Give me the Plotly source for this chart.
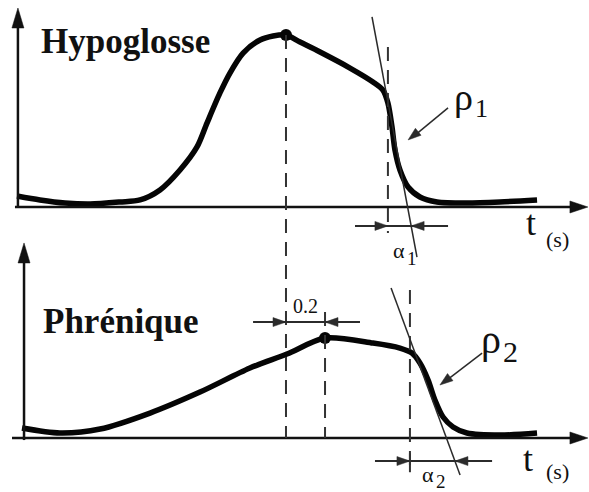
import plotly.graph_objects as go

# Burst envelopes: time in seconds, amplitude normalised to the hypoglossal peak
hypo_t = [0.000, 0.124, 0.259, 0.395, 0.557, 0.665, 0.773, 0.881, 0.973, 1.027,
          1.097, 1.151, 1.222, 1.314, 1.384, 1.454, 1.530, 1.638, 1.800, 1.924,
          1.978, 2.005, 2.027, 2.043, 2.070, 2.114, 2.178, 2.270, 2.432, 2.611,
          2.811]
hypo_a = [0.064, 0.041, 0.023, 0.017, 0.029, 0.041, 0.099, 0.215, 0.349, 0.488,
          0.663, 0.779, 0.895, 0.971, 0.994, 1.000, 0.959, 0.901, 0.808, 0.727,
          0.680, 0.605, 0.465, 0.331, 0.215, 0.116, 0.058, 0.029, 0.023, 0.029,
          0.041]

phren_t = [0.027, 0.232, 0.449, 0.719, 0.989, 1.259, 1.459, 1.665, 1.924, 2.070,
           2.135, 2.178, 2.222, 2.259, 2.303, 2.357, 2.432, 2.611, 2.811]
phren_a = [0.058, 0.029, 0.052, 0.145, 0.267, 0.407, 0.488, 0.581, 0.552, 0.523,
           0.494, 0.436, 0.337, 0.221, 0.122, 0.064, 0.029, 0.017, 0.029]

# Fall-phase tangents (t, amplitude) end points and the onset of the fall
hypo_tangent_t = [1.919, 2.162]
hypo_tangent_a = [1.105, -0.291]
phren_tangent_t = [2.022, 2.395]
phren_tangent_a = [0.872, -0.215]
hypo_knee_t = 2.005
phren_knee_t = 2.124

panel_titles = ["Hypoglosse", "Phrénique"]
delay_label = "0.2"
slope_symbol, fall_symbol = "ρ", "α"
panel_indices = ["1", "2"]

# ---------------------------------------------------------------- geometry
W, H = 589, 492
PX_PER_S = 185.0
PX_PER_UNIT = 172.0
T_LEFT = -17 / PX_PER_S
X_RANGE = [T_LEFT, T_LEFT + W / PX_PER_S]
TOP_BASE, BOT_BASE = 207, 438          # baseline rows of the two panels
Y1_RANGE = [(TOP_BASE - H) / PX_PER_UNIT, TOP_BASE / PX_PER_UNIT]
Y2_RANGE = [(BOT_BASE - H) / PX_PER_UNIT, BOT_BASE / PX_PER_UNIT]

INK = "#111111"
GREY = "#2b2b2b"
SERIF = "Liberation Serif, Times New Roman, serif"

shapes = []
annotations = []


def seg(x0, y0, x1, y1, yref, width=1.5, color=GREY, dash=None):
    shapes.append(dict(type="line", xref="x", yref=yref, x0=x0, y0=y0, x1=x1, y1=y1,
                       line=dict(color=color, width=width, dash=dash), layer="above"))


def head(xt, yt, yref, ux, uy, length, width, color=GREY):
    """Filled triangular arrowhead; (ux, uy) is the pointing direction on screen."""
    n = (ux * ux + uy * uy) ** 0.5
    ux, uy = ux / n, uy / n
    px, py = -uy, ux
    bx, by = -ux * length, -uy * length
    pts = [(0, 0), (bx + px * width / 2, by + py * width / 2),
           (bx - px * width / 2, by - py * width / 2)]
    path = "M " + " L ".join(f"{xt + dx / PX_PER_S:.5f},{yt - dy / PX_PER_UNIT:.5f}"
                             for dx, dy in pts) + " Z"
    shapes.append(dict(type="path", xref="x", yref=yref, path=path, fillcolor=color,
                       line=dict(color=color, width=0.5), layer="above"))


def text(x, y, yref, s, size, bold=False, anchor="center", color=INK):
    annotations.append(dict(x=x, y=y, xref="x", yref=yref, text=f"<b>{s}</b>" if bold else s,
                            showarrow=False, xanchor=anchor, yanchor="middle", borderpad=0,
                            font=dict(family=SERIF, size=size, color=color)))


def indexed(x, y_sym, y_idx, yref, sym, idx, size_sym, size_idx):
    """Symbol with a lowered index placed right after it."""
    text(x, y_sym, yref, sym, size_sym, anchor="right")
    text(x, y_idx, yref, idx, size_idx, anchor="left")


fig = go.Figure()

# envelopes
fig.add_trace(go.Scatter(x=hypo_t, y=hypo_a, mode="lines", yaxis="y",
                         line=dict(color="#050505", width=5.5, shape="spline", smoothing=0.8),
                         hoverinfo="skip"))
fig.add_trace(go.Scatter(x=phren_t, y=phren_a, mode="lines", yaxis="y2",
                         line=dict(color="#050505", width=5.5, shape="spline", smoothing=0.8),
                         hoverinfo="skip"))

# peaks
i1 = hypo_a.index(max(hypo_a))
i2 = phren_a.index(max(phren_a))
peak1_t, peak1_a = hypo_t[i1], hypo_a[i1]
peak2_t, peak2_a = phren_t[i2], phren_a[i2]
fig.add_trace(go.Scatter(x=[peak1_t], y=[peak1_a], mode="markers", yaxis="y",
                         marker=dict(color="#050505", size=12), hoverinfo="skip"))
fig.add_trace(go.Scatter(x=[peak2_t], y=[peak2_a], mode="markers", yaxis="y2",
                         marker=dict(color="#050505", size=12), hoverinfo="skip"))

# ------------------------------------------------------------------- axes
AX_W = 2.5
# top panel
seg(0.005, -0.006, 0.005, 1.05, "y", AX_W, INK)
head(0.005, 1.157, "y", 0, -1, 20, 12, INK)
seg(-0.011, 0, 3.0, 0, "y", AX_W, INK)
head(3.086, 0, "y", 1, 0, 18, 12, INK)
# bottom panel
seg(0.038, -0.012, 0.038, 1.03, "y2", AX_W, INK)
head(0.038, 1.134, "y2", 0, -1, 20, 12, INK)
seg(-0.027, 0, 3.0, 0, "y2", AX_W, INK)
head(3.086, 0, "y2", 1, 0, 18, 12, INK)

# ---------------------------------------------------------- dashed guides
DASH = "14px,9px"
seg(peak1_t, peak1_a, peak1_t, (TOP_BASE - BOT_BASE) / PX_PER_UNIT, "y", 2, "#333333", DASH)
seg(hypo_knee_t, 0.930, hypo_knee_t, -0.151, "y", 2, "#333333", DASH)
seg(peak2_t, 0.733, peak2_t, 0, "y2", 2, "#333333", DASH)
seg(phren_knee_t, 0.860, phren_knee_t, -0.186, "y2", 2, "#333333", DASH)

# tangents
seg(hypo_tangent_t[0], hypo_tangent_a[0], hypo_tangent_t[1], hypo_tangent_a[1], "y", 1.5)
seg(phren_tangent_t[0], phren_tangent_a[0], phren_tangent_t[1], phren_tangent_a[1], "y2", 1.5)


def tangent_x(tt, aa, a):
    return tt[0] + (tt[1] - tt[0]) * (a - aa[0]) / (aa[1] - aa[0])


# fall-time brackets
a_br1 = -0.110
x_cross1 = tangent_x(hypo_tangent_t, hypo_tangent_a, a_br1)
seg(1.827, a_br1, 2.330, a_br1, "y", 2)
head(hypo_knee_t, a_br1, "y", 1, 0, 13, 9)
head(x_cross1, a_br1, "y", -1, 0, 13, 9)

a_br2 = -0.134
x_cross2 = tangent_x(phren_tangent_t, phren_tangent_a, a_br2)
seg(1.935, a_br2, 2.568, a_br2, "y2", 2)
seg(phren_knee_t, a_br2 + 0.045, phren_knee_t, a_br2 - 0.065, "y2", 2, "#333333")
head(phren_knee_t, a_br2, "y2", 1, 0, 13, 9)
head(x_cross2, a_br2, "y2", -1, 0, 13, 9)

# peak delay bracket
a_d = 0.674
seg(1.276, a_d, 1.854, a_d, "y2", 2)
head(peak1_t, a_d, "y2", 1, 0, 13, 9)
head(peak2_t, a_d, "y2", -1, 0, 13, 9)
text(1.557, 0.765, "y2", delay_label, 20)

# slope pointers
seg(2.330, 0.576, 2.150, 0.416, "y", 1.5)
head(2.114, 0.390, "y", -40, 32, 13, 9)
seg(2.514, 0.494, 2.320, 0.334, "y2", 1.5)
head(2.286, 0.308, "y2", -42, 32, 13, 9)

# ------------------------------------------------------------------ labels
text(0.124, 0.965, "y", panel_titles[0], 35, bold=True, anchor="left")
text(0.135, 0.680, "y2", panel_titles[1], 35, bold=True, anchor="left")

text(2.781, -0.095, "y", "t", 36)
text(2.919, -0.190, "y", "(s)", 22)
text(2.760, -0.120, "y2", "t", 36)
text(2.919, -0.196, "y2", "(s)", 22)

indexed(2.468, 0.640, 0.570, "y", slope_symbol, panel_indices[0], 38, 26)
indexed(2.624, 0.575, 0.505, "y2", slope_symbol, panel_indices[1], 40, 30)

indexed(2.103, -0.255, -0.300, "y", fall_symbol, panel_indices[0], 22, 19)
indexed(2.259, -0.210, -0.250, "y2", fall_symbol, panel_indices[1], 22, 19)

fig.update_layout(
    width=W, height=H, autosize=False,
    margin=dict(l=0, r=0, t=0, b=0, pad=0),
    paper_bgcolor="white", plot_bgcolor="white",
    showlegend=False,
    xaxis=dict(range=X_RANGE, visible=False, fixedrange=True),
    yaxis=dict(range=Y1_RANGE, visible=False, fixedrange=True),
    yaxis2=dict(range=Y2_RANGE, visible=False, fixedrange=True, overlaying="y"),
    shapes=shapes,
    annotations=annotations,
)

fig.write_html("out.html")
